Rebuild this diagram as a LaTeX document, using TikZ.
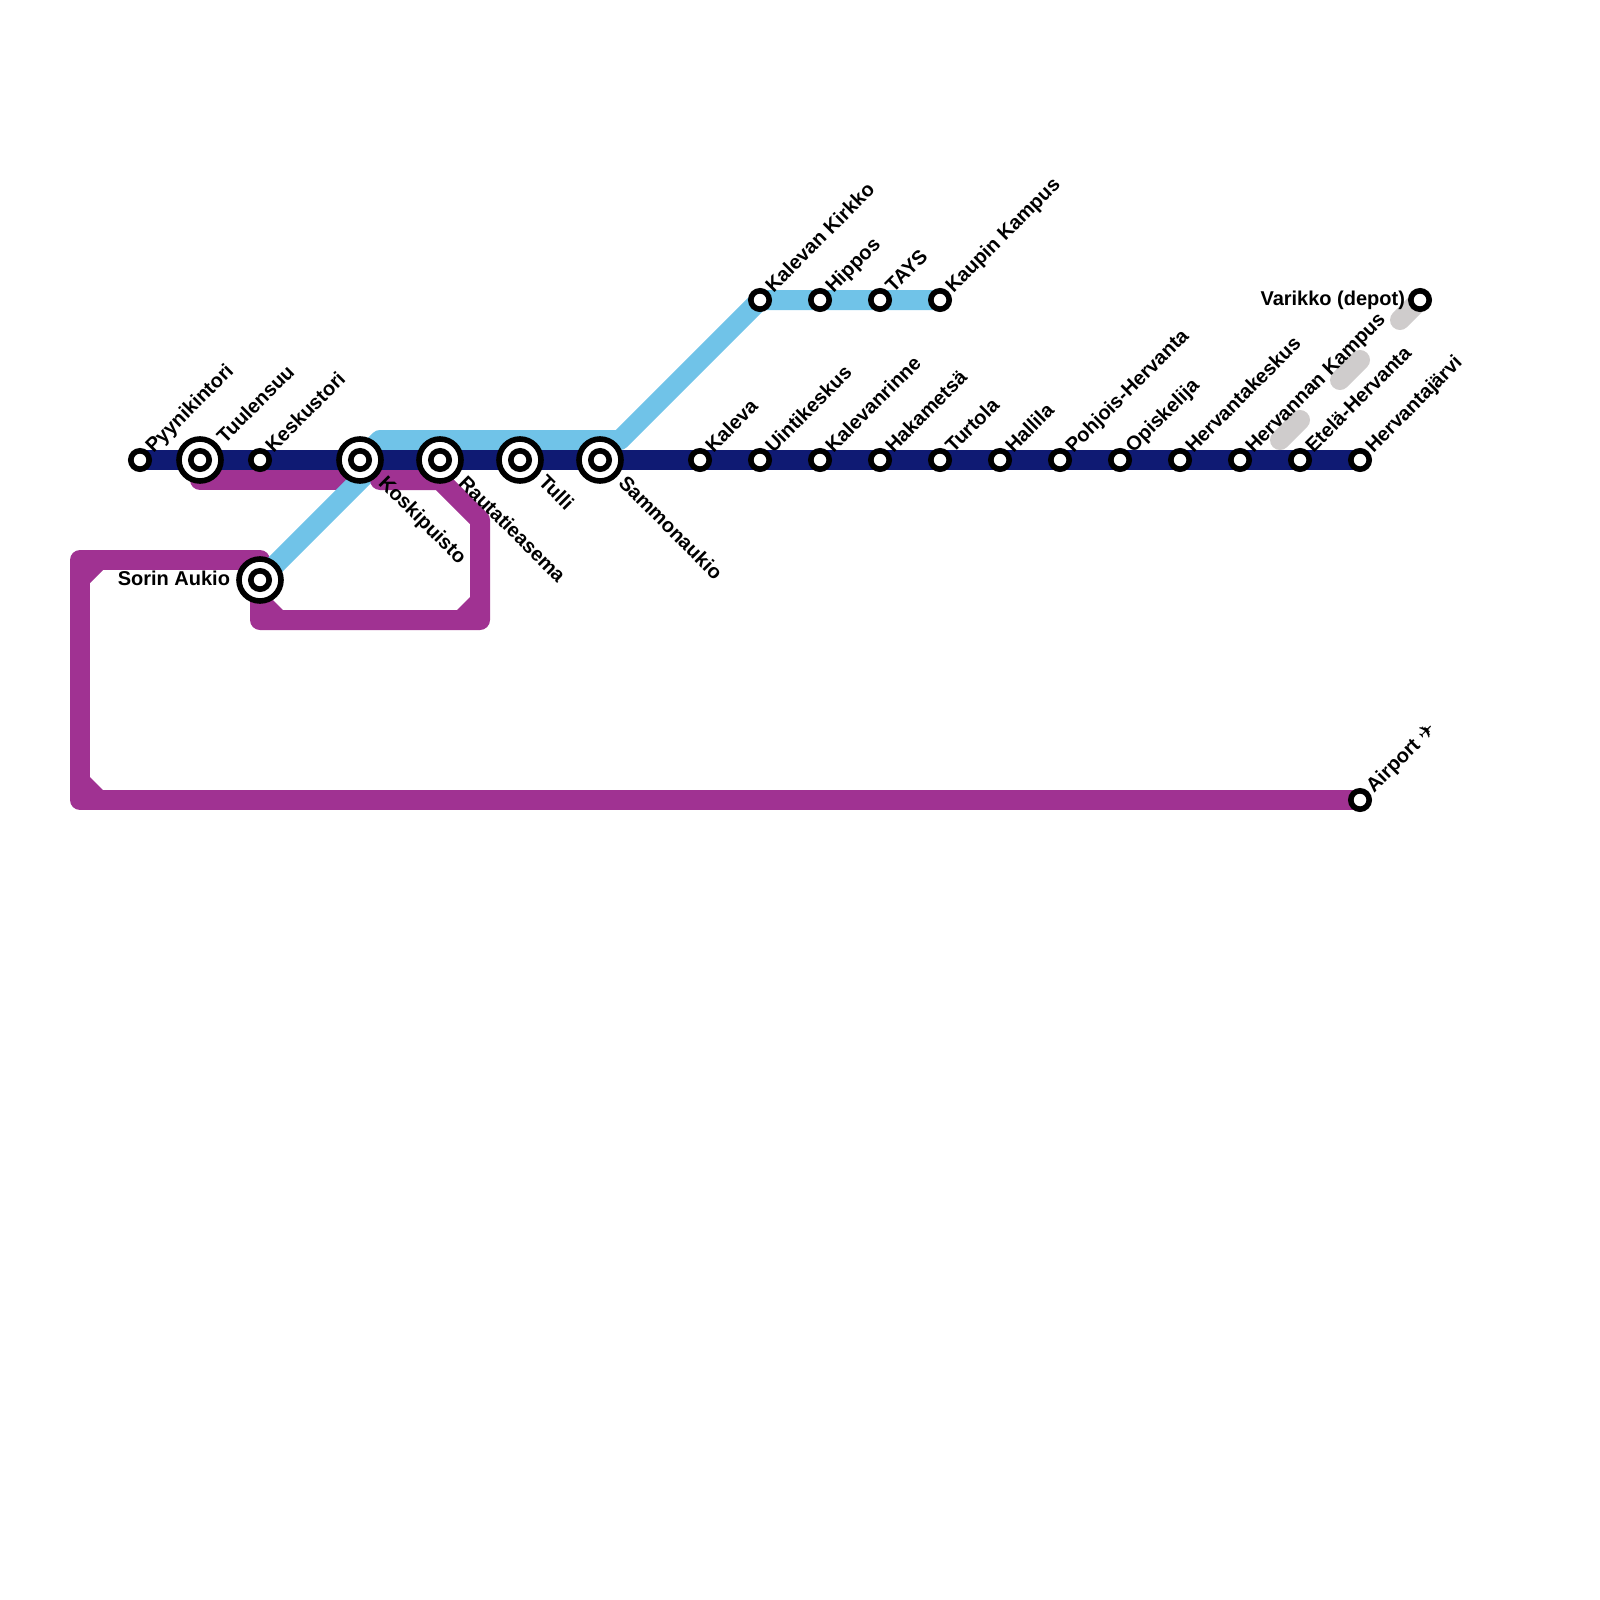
\documentclass[tikz,border=0pt]{standalone}
\usepackage{fontspec}
\setmainfont{Liberation Sans}
\newfontfamily\symfont{DejaVu Sans}
\usetikzlibrary{backgrounds}
\definecolor{navyline}{HTML}{0F1A73}
\definecolor{purpleline}{HTML}{A03292}
\definecolor{blueline}{HTML}{70C3E8}
\definecolor{greyline}{HTML}{CFCCCC}
\tikzset{
  metro/.style={line width=10pt,line join=round,line cap=butt},
  chamfer/.style={fill=purpleline,draw=none},
  stop/.style={circle,draw=black,fill=white,line width=2.8pt,inner sep=0pt,outer sep=0pt,minimum size=9.2pt},
  hub/.style={circle,draw=black,fill=white,line width=2.8pt,inner sep=0pt,outer sep=0pt,minimum size=21pt},
  txt/.style={font=\fontsize{10}{12}\selectfont\bfseries,inner sep=0pt,outer sep=0pt,text=black},
  up/.style={txt,rotate=45,anchor=base west},
  down/.style={txt,rotate=-45,anchor=base west},
  lft/.style={txt,anchor=base east},
}
\begin{document}
\begin{tikzpicture}[x=0.5pt,y=-0.5pt]
\useasboundingbox (0,0) rectangle (1600,1600);
% stations
\node[stop] (pyy) at (140,460) {};
\node[hub] (tuu) at (200,460) {};
\node[stop] (kes) at (260,460) {};
\node[hub] (kos) at (360,460) {};
\node[hub] (rau) at (440,460) {};
\node[hub] (tul) at (520,460) {};
\node[hub] (sam) at (600,460) {};
\node[stop] (kal) at (700,460) {};
\node[stop] (uin) at (760,460) {};
\node[stop] (kvr) at (820,460) {};
\node[stop] (hak) at (880,460) {};
\node[stop] (tur) at (940,460) {};
\node[stop] (hal) at (1000,460) {};
\node[stop] (poh) at (1060,460) {};
\node[stop] (opi) at (1120,460) {};
\node[stop] (hke) at (1180,460) {};
\node[stop] (hka) at (1240,460) {};
\node[stop] (ete) at (1300,460) {};
\node[stop] (hja) at (1360,460) {};
\node[stop] (kki) at (760,300) {};
\node[stop] (hip) at (820,300) {};
\node[stop] (tay) at (880,300) {};
\node[stop] (kau) at (940,300) {};
\node[stop] (var) at (1420,300) {};
\node[stop] (air) at (1360,800) {};
\node[hub] (sor) at (260,580) {};
\node[stop] (tuui) at (200,460) {};
\node[stop] (kosi) at (360,460) {};
\node[stop] (raui) at (440,460) {};
\node[stop] (tuli) at (520,460) {};
\node[stop] (sami) at (600,460) {};
\node[stop] (sori) at (260,580) {};
% bends
\coordinate (p1) at (200,480);
\coordinate (p2) at (360,480);
\coordinate (p3) at (380,460);
\coordinate (p4) at (380,480);
\coordinate (p5) at (440,480);
\coordinate (p6) at (480,520);
\coordinate (p7) at (480,620);
\coordinate (p8) at (260,620);
\coordinate (q1) at (260,560);
\coordinate (q2) at (80,560);
\coordinate (q3) at (80,800);
\coordinate (b1) at (380,460);
\coordinate (b2) at (380,440);
\coordinate (b3) at (620,440);
\coordinate (g1) at (1400,320);
\coordinate (g2) at (1340,380);
\coordinate (g3) at (1360,360);
\coordinate (g4) at (1280,440);
\coordinate (g5) at (1300,420);
\begin{scope}[on background layer]
  \draw[metro,purpleline] (tuu.center) -- (p1) -- (p2);
  \draw[metro,purpleline] (sor.center) -- (q1) -- (q2) -- (q3) -- (air.center);
  \draw[metro,blueline] (sor.center) -- (b1);
  \draw[metro,purpleline] (p3) -- (p4) -- (p5) -- (p6) -- (p7) -- (p8) -- (sor.center);
  \fill[chamfer] (471,596) -- (471,611) -- (456,611) -- cycle;
  \fill[chamfer] (269,596) -- (284,611) -- (269,611) -- cycle;
  \fill[chamfer] (89,584) -- (89,569) -- (104,569) -- cycle;
  \fill[chamfer] (89,776) -- (89,791) -- (104,791) -- cycle;
  \draw[metro,blueline] (kos.center) -- (b2) -- (b3) -- (kki.center) -- (kau.center);
  \draw[metro,navyline] (pyy.center) -- (hja.center);
  \draw[metro,greyline,line cap=round] (var.center) -- (g1);
  \draw[metro,greyline,line cap=round] (g2) -- (g3);
  \draw[metro,greyline,line cap=round] (g4) -- (g5);
\end{scope}
% labels
\node[up] (l1) at (153.5,453.5) {Pyynikintori};
\node[up] (l2) at (225,444) {Tuulensuu};
\node[up] (l3) at (273.5,453.5) {Keskustori};
\node[up] (l8) at (713.5,453.5) {Kaleva};
\node[up] (l9) at (773.5,453.5) {Uintikeskus};
\node[up] (l10) at (833.5,453.5) {Kalevanrinne};
\node[up] (l11) at (893.5,453.5) {Hakametsä};
\node[up] (l12) at (953.5,453.5) {Turtola};
\node[up] (l13) at (1013.5,453.5) {Hallila};
\node[up] (l14) at (1073.5,453.5) {Pohjois-Hervanta};
\node[up] (l15) at (1133.5,453.5) {Opiskelija};
\node[up] (l16) at (1193.5,453.5) {Hervantakeskus};
\node[up] (l17) at (1253.5,453.5) {Hervannan Kampus};
\node[up] (l18) at (1313.5,453.5) {Etelä-Hervanta};
\node[up] (l19) at (1373.5,453.5) {Hervantajärvi};
\node[up] (l20) at (773.5,293.5) {Kalevan Kirkko};
\node[up] (l21) at (833.5,293.5) {Hippos};
\node[up] (l22) at (893.5,293.5) {TAYS};
\node[up] (l23) at (953.5,293.5) {Kaupin Kampus};
\node[up] (l24) at (1374,793.5) {Airport {\symfont ✈}};
\node[down] (l4) at (377.5,484) {Koskipuisto};
\node[down] (l5) at (457.5,484) {Rautatieasema};
\node[down] (l6) at (537.5,483) {Tulli};
\node[down] (l7) at (617.5,484) {Sammonaukio};
\node[lft] (l25) at (230,585) {Sorin Aukio};
\node[lft] (l26) at (1405,305) {Varikko (depot)};
\end{tikzpicture}
\end{document}
